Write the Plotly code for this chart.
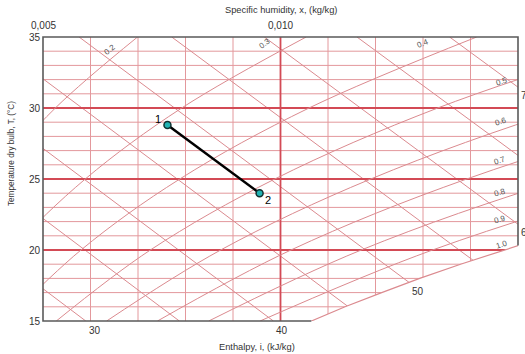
import numpy as np
import plotly.graph_objects as go

# ---------------- data ----------------
x_range = [0.005, 0.015]
t_range = [15, 35]
x_tickvals = [0.005, 0.010]
x_ticktext = ["0,005", "0,010"]
t_tickvals = [15, 20, 25, 30, 35]

x_grid_minor = [0.006, 0.007, 0.008, 0.009, 0.011, 0.012, 0.013, 0.014]
x_grid_major = [0.010]
t_grid_minor = [16, 17, 18, 19, 21, 22, 23, 24, 26, 27, 28, 29, 31, 32, 33, 34]
t_grid_major = [20, 25, 30]

# relative humidity lines: humidity ratio at temperatures t_levels
t_levels = [15, 20, 25, 30, 35]
rh_labels = ["0.2", "0.3", "0.4", "0.5", "0.6", "0.7", "0.8", "0.9"]
rh_x = [
    [0.00210, 0.00289, 0.00392, 0.00526, 0.00699],
    [0.00316, 0.00434, 0.00589, 0.00792, 0.01054],
    [0.00422, 0.00580, 0.00788, 0.01060, 0.01413],
    [0.00528, 0.00726, 0.00988, 0.01331, 0.01777],
    [0.00634, 0.00874, 0.01190, 0.01604, 0.02144],
    [0.00741, 0.01022, 0.01392, 0.01880, 0.02520],
    [0.00849, 0.01170, 0.01596, 0.02160, 0.02900],
    [0.00957, 0.01320, 0.01802, 0.02440, 0.03290],
]
# saturation line (RH = 1.0)
sat_t = [15, 16, 17, 18, 19, 20, 21]
sat_x = [0.01065, 0.01136, 0.01213, 0.01293, 0.01379, 0.01470, 0.01565]

# enthalpy lines: humidity ratio at 15 degC and 35 degC
enthalpy = [30, 35, 40, 45, 50, 55, 60, 65, 70]
h_x_at15 = [0.00590, 0.00787, 0.00985, 0.01183, 0.01380, 0.01578, 0.01776, 0.01974, 0.02171]
h_x_at35 = [-0.00203, -0.00008, 0.00187, 0.00382, 0.00576, 0.00771, 0.00966, 0.01161, 0.01356]

# process points
proc_names = ["1", "2"]
proc_x = [0.00762, 0.00956]
proc_t = [28.8, 24.0]

# ---------------- styling ----------------
FONT = "Arial, Liberation Sans, sans-serif"
THIN = "#e3989c"
DIAG = "#db8a8f"
THICK = "#d34a55"
TXT = "#333"

fig = go.Figure()


def seg_lines(xs, ys):
    return dict(x=xs, y=ys, mode="lines", hoverinfo="skip", showlegend=False)


# horizontal grid
hx, hy = [], []
for t in t_grid_minor:
    hx += [x_range[0], x_range[1], None]
    hy += [t, t, None]
fig.add_trace(go.Scatter(**seg_lines(hx, hy), line=dict(color=THIN, width=1)))
# vertical grid
vx, vy = [], []
for x in x_grid_minor:
    vx += [x, x, None]
    vy += [t_range[0], t_range[1], None]
fig.add_trace(go.Scatter(**seg_lines(vx, vy), line=dict(color=THIN, width=1)))

# enthalpy lines
ex, ey = [], []
for a, b in zip(h_x_at15, h_x_at35):
    ex += [a, b, None]
    ey += [15, 35, None]
fig.add_trace(go.Scatter(**seg_lines(ex, ey), line=dict(color=DIAG, width=1)))

# major grid
mx, my = [], []
for t in t_grid_major:
    mx += [x_range[0], x_range[1], None]
    my += [t, t, None]
for x in x_grid_major:
    mx += [x, x, None]
    my += [t_range[0], t_range[1], None]
fig.add_trace(go.Scatter(**seg_lines(mx, my), line=dict(color=THICK, width=1.8)))

# RH lines
for xs in rh_x:
    fig.add_trace(go.Scatter(**seg_lines(xs, t_levels),
                             line=dict(color=DIAG, width=1, shape="spline", smoothing=1)))

# white mask below saturation line
fig.add_trace(go.Scatter(x=sat_x + [0.0160, 0.0160], y=sat_t + [sat_t[-1], 14.0],
                         mode="lines", fill="toself", fillcolor="white",
                         line=dict(width=0, color="white"), hoverinfo="skip", showlegend=False))
# saturation line
fig.add_trace(go.Scatter(**seg_lines(sat_x, sat_t), line=dict(color=DIAG, width=1.2)))

# process line and points
fig.add_trace(go.Scatter(x=proc_x, y=proc_t, mode="lines+markers",
                         line=dict(color="black", width=2.5),
                         marker=dict(size=7, color="#22b3b3", line=dict(color="#103030", width=1.5)),
                         hoverinfo="skip", showlegend=False))

# ---------------- border (partly cut by saturation line) ----------------
def px(x):
    return (x - x_range[0]) / (x_range[1] - x_range[0])


def py(t):
    return (t - t_range[0]) / (t_range[1] - t_range[0])


t_right = float(np.interp(x_range[1], sat_x, sat_t))
path = (f"M {px(sat_x[0])},0 L 0,0 L 0,1 L 1,1 L 1,{py(t_right)}")
fig.add_shape(type="path", path=path, xref="paper", yref="paper",
              line=dict(color="#5a5a5a", width=1.6), layer="above")

# ---------------- annotations ----------------
ann = []


def text(t, x, y, xref="paper", yref="paper", size=10, color=TXT, **kw):
    d = dict(text=t, x=x, y=y, xref=xref, yref=yref, showarrow=False,
             xanchor="center", yanchor="middle", font=dict(size=size, color=color))
    d.update(kw)
    ann.append(d)


# axis titles
text("Specific humidity, x, (kg/kg)", 0.502, 1.095, size=9.3)
text("Temperature dry bulb, T, (°C)", -0.066, 0.59, size=8.2, textangle=-90)
text("Enthalpy, i, (kJ/kg)", 0.4505, -0.091, size=9.3)

# top tick labels (specific humidity)
for v, lab in zip(x_tickvals, x_ticktext):
    text(lab, v, 1.04, xref="x", size=10)

# enthalpy labels
text("30", 0.00610, -0.034, xref="x")
text("40", 0.01003, -0.034, xref="x")
text("50", 0.01289, 17.08, xref="x", yref="y")
text("70", 1.003, py(30.85), xanchor="left")
text("60", 1.003, py(21.2), xanchor="left")

# RH labels
rh_pos = [(0.00641, 34.11, -38), (0.00967, 34.53, -35), (0.01300, 34.53, -22),
          (0.01466, 31.85, -18), (0.01464, 29.03, -18), (0.01462, 26.29, -18),
          (0.01462, 24.04, -16), (0.01462, 22.14, -16)]
for lab, (lx, ly, ang) in zip(rh_labels, rh_pos):
    text(lab, lx, ly, xref="x", yref="y", size=8, color="#555", textangle=ang)
text("1.0", 0.01466, 20.38, xref="x", yref="y", size=8, color="#555", textangle=-18)

# point labels
text(proc_names[0], proc_x[0], proc_t[0], xref="x", yref="y", size=11, color="black",
     xshift=-9, yshift=6)
text(proc_names[1], proc_x[1], proc_t[1], xref="x", yref="y", size=11, color="black",
     xshift=8, yshift=-7)

fig.update_layout(
    width=525, height=354,
    margin=dict(l=43, r=7, t=37, b=33),
    paper_bgcolor="white", plot_bgcolor="white",
    font=dict(family=FONT, size=10, color=TXT),
    annotations=ann,
    xaxis=dict(range=x_range, side="top", showticklabels=False, showgrid=False,
               zeroline=False, showline=False, ticks=""),
    yaxis=dict(range=t_range, tickmode="array", tickvals=t_tickvals, showgrid=False,
               zeroline=False, showline=False, ticks="", ticklabelstandoff=2,
               tickfont=dict(size=10, color=TXT)),
)

fig.write_html("out.html", config={"displayModeBar": False},
               post_script="document.body.style.margin='0px';")
